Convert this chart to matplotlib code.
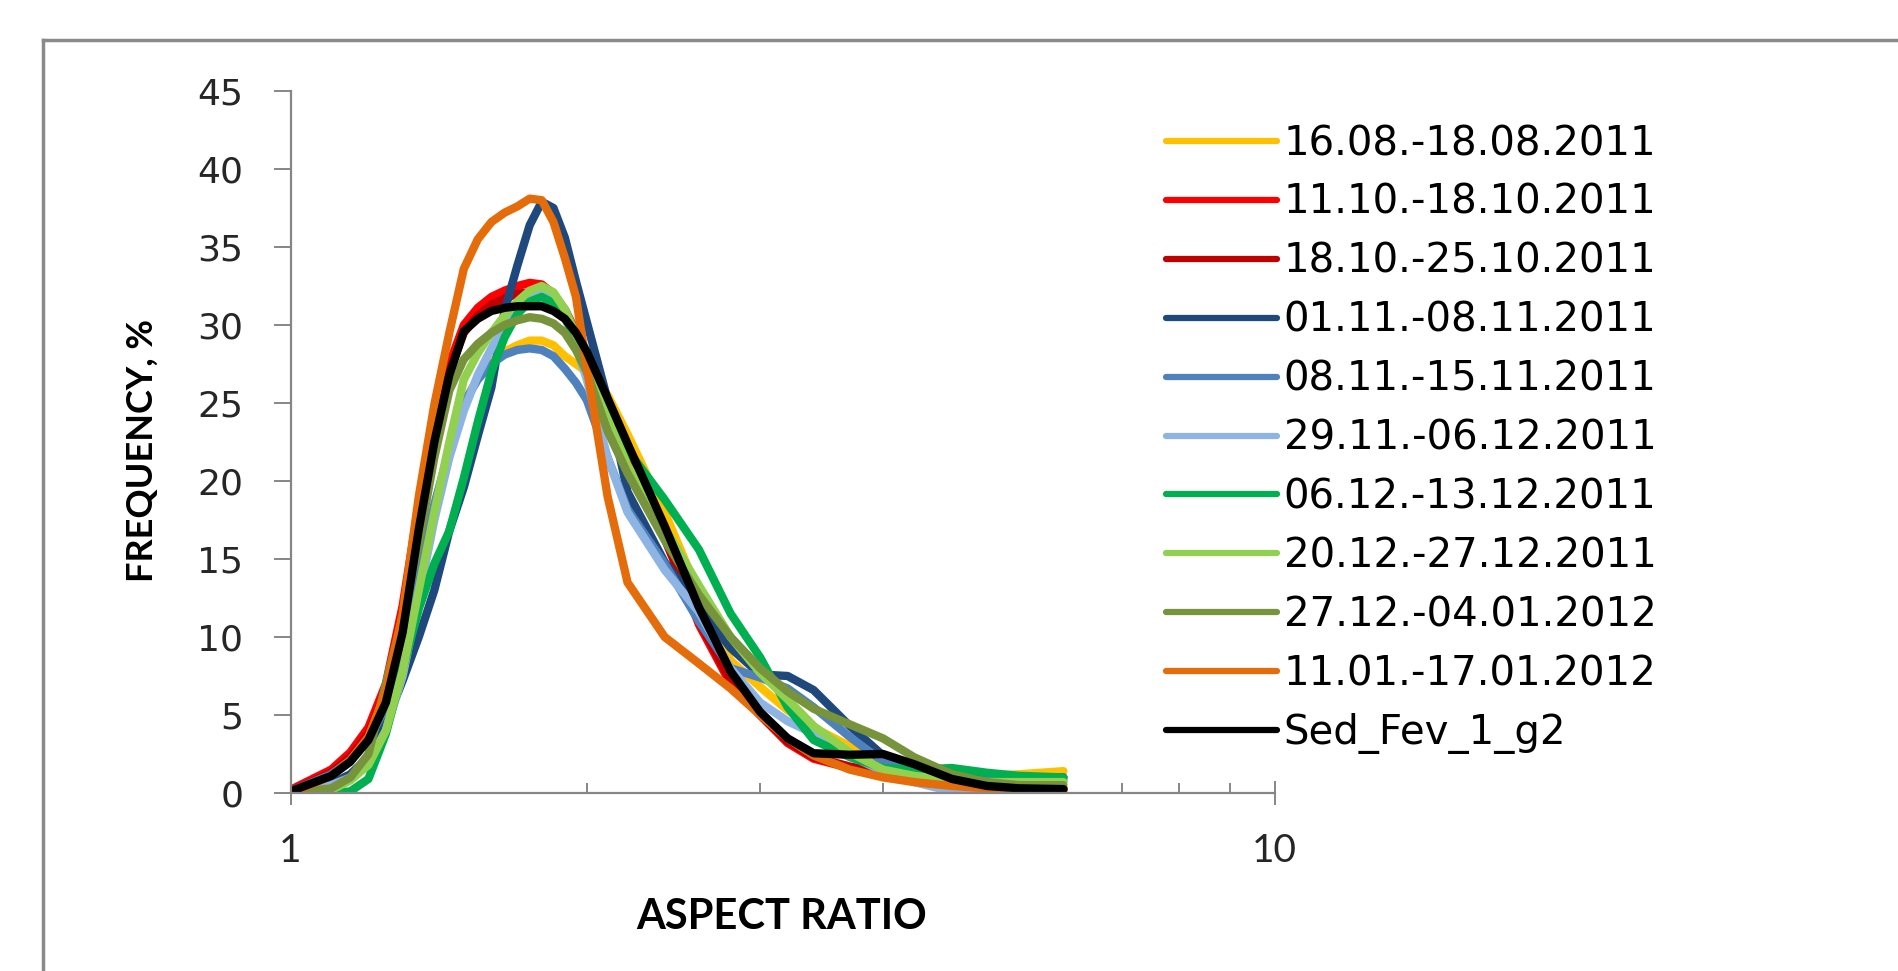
import numpy as np
import matplotlib
matplotlib.use("Agg")
import matplotlib.pyplot as plt
from matplotlib.lines import Line2D
from matplotlib.ticker import NullFormatter

# aspect ratio values (x) shared by all series
aspect = [1.0, 1.1, 1.15, 1.2, 1.25, 1.3, 1.35, 1.4, 1.45, 1.5, 1.55, 1.6, 1.65, 1.7, 1.75,
          1.8, 1.85, 1.9, 1.95, 2.0, 2.1, 2.2, 2.4, 2.6, 2.8, 3.0, 3.2, 3.4, 3.7, 4.0,
          4.3, 4.7, 5.1, 5.5, 6.1]

f_1608 = [0.0, 0.5, 1.0, 2.0, 4.0, 8.0, 13.5, 18.0, 22.0, 25.0, 26.6, 27.6, 28.3, 28.7, 29.0,
          29.0, 28.7, 28.0, 27.5, 27.0, 25.5, 23.0, 18.0, 12.8, 8.5, 6.8, 5.3, 4.2, 3.0, 2.0,
          1.5, 1.2, 1.1, 1.2, 1.4]
f_1110 = [0.2, 1.5, 2.6, 4.2, 7.0, 12.0, 18.5, 23.5, 27.5, 30.0, 31.1, 31.8, 32.2, 32.5, 32.7,
          32.6, 32.0, 31.0, 29.6, 28.0, 24.8, 21.8, 16.5, 10.8, 7.0, 5.0, 3.2, 2.2, 1.6, 1.2,
          0.8, 0.5, 0.3, 0.25, 0.2]
f_1810 = [0.1, 1.3, 2.3, 3.8, 6.5, 11.5, 18.0, 23.0, 27.0, 29.5, 30.6, 31.3, 31.7, 32.0, 32.1,
          32.0, 31.4, 30.5, 29.3, 27.8, 24.8, 21.8, 16.3, 11.0, 7.2, 5.0, 3.3, 2.3, 1.7, 1.3,
          0.9, 0.6, 0.4, 0.3, 0.3]
f_0111 = [0.1, 0.6, 1.2, 2.3, 4.5, 7.2, 10.0, 13.0, 16.8, 19.6, 22.9, 26.0, 30.9, 33.8, 36.4,
          37.9, 37.5, 35.6, 32.8, 30.2, 25.2, 19.3, 14.8, 11.9, 9.3, 7.6, 7.5, 6.6, 4.3, 2.4,
          1.5, 1.0, 1.0, 1.0, 1.0]
f_0811 = [0.1, 1.2, 2.1, 3.4, 5.5, 9.0, 14.0, 18.5, 22.0, 25.0, 26.5, 27.5, 28.1, 28.4, 28.5,
          28.4, 28.0, 27.2, 26.3, 25.2, 21.5, 18.2, 14.7, 11.0, 8.0, 7.4, 6.7, 5.5, 3.6, 2.0,
          1.3, 0.9, 0.8, 0.8, 0.8]
f_2911 = [0.0, 0.5, 1.0, 2.0, 4.0, 7.5, 12.5, 17.5, 21.5, 24.5, 26.8, 28.5, 30.0, 31.0, 31.7,
          32.0, 31.6, 30.5, 28.7, 26.5, 21.5, 18.0, 14.3, 11.6, 8.0, 5.8, 4.6, 3.8, 2.4, 1.4,
          0.7, 0.1, 0.0, 0.0, 0.0]
f_0612 = [0.0, 0.0, 0.1, 0.9, 3.8, 7.9, 11.8, 14.7, 16.8, 20.2, 23.8, 27.0, 29.2, 30.7, 31.5,
          31.8, 31.4, 30.5, 29.1, 27.5, 24.5, 22.0, 18.8, 15.6, 11.5, 8.7, 5.5, 3.4, 2.3, 1.6,
          1.5, 1.6, 1.3, 1.1, 1.0]
f_2012 = [0.0, 0.2, 0.8, 1.8, 4.0, 7.8, 13.0, 18.0, 22.5, 26.5, 28.2, 29.5, 30.6, 31.5, 32.2,
          32.5, 32.1, 31.0, 29.4, 27.5, 24.0, 21.0, 17.0, 13.3, 10.0, 7.7, 6.0, 4.3, 2.6, 1.5,
          1.1, 0.8, 0.7, 0.7, 0.7]
f_2712 = [0.0, 0.3, 1.0, 2.5, 7.0, 11.3, 16.0, 21.5, 25.8, 27.8, 28.8, 29.5, 30.0, 30.3, 30.5,
          30.4, 30.1, 29.5, 28.4, 27.0, 23.2, 20.5, 16.2, 12.7, 10.0, 8.0, 6.5, 5.4, 4.4, 3.5,
          2.3, 1.2, 0.7, 0.5, 0.5]
f_1101 = [0.0, 1.1, 2.1, 3.6, 6.5, 11.5, 19.0, 24.9, 29.5, 33.6, 35.5, 36.6, 37.2, 37.6, 38.1,
          38.0, 36.6, 34.3, 31.8, 27.3, 19.0, 13.5, 10.0, 8.3, 6.7, 5.0, 3.5, 2.4, 1.5, 1.0,
          0.7, 0.45, 0.3, 0.25, 0.2]
f_sed = [0.1, 1.1, 2.0, 3.4, 5.8, 10.3, 16.9, 22.5, 26.8, 29.6, 30.4, 30.9, 31.1, 31.2, 31.2,
         31.2, 30.9, 30.4, 29.5, 28.3, 25.3, 22.4, 17.1, 11.9, 7.8, 5.2, 3.5, 2.55, 2.45, 2.5,
         1.85, 0.9, 0.45, 0.3, 0.25]

labels = ["16.08.-18.08.2011", "11.10.-18.10.2011", "18.10.-25.10.2011",
          "01.11.-08.11.2011", "08.11.-15.11.2011", "29.11.-06.12.2011",
          "06.12.-13.12.2011", "20.12.-27.12.2011", "27.12.-04.01.2012",
          "11.01.-17.01.2012", "Sed_Fev_1_g2"]
series = [f_1608, f_1110, f_1810, f_0111, f_0811, f_2911,
          f_0612, f_2012, f_2712, f_1101, f_sed]
colors = ["#FFC000", "#FF0000", "#C00000", "#1F497D", "#4F81BD", "#8DB4E2",
          "#00B050", "#92D050", "#77933C", "#E46C0A", "#000000"]

W, H = 1898, 971
fig = plt.figure(figsize=(W / 100, H / 100), dpi=100)
ax = fig.add_axes([290.5 / W, 1 - 793 / H, 984.2 / W, 702 / H])

for y, c, lab in zip(series, colors, labels):
    ax.plot(aspect, y, color=c, lw=6, label=lab,
            solid_capstyle="round", solid_joinstyle="round")

ax.set_xscale("log")
ax.set_xlim(1, 10)
ax.set_ylim(0, 45)
ax.set_xticks([1, 10])
ax.set_xticklabels(["1", "10"])
ax.set_xticks([2, 3, 4, 5, 6, 7, 8, 9], minor=True)
ax.xaxis.set_minor_formatter(NullFormatter())
ax.set_yticks(np.arange(0, 46, 5))
ax.set_yticks([], minor=True)

gray = "#868686"
for s in ["top", "right"]:
    ax.spines[s].set_visible(False)
for s in ["left", "bottom"]:
    ax.spines[s].set_color(gray)
    ax.spines[s].set_linewidth(1.6)

ax.tick_params(axis="y", direction="out", length=12, width=1.4, color=gray,
               labelsize=26, pad=22, labelcolor="#262626")
for t in ax.get_yticklabels():
    t.set_family("DejaVu Sans")
ax.tick_params(axis="x", which="major", direction="inout", length=17, width=1.4,
               color=gray, labelsize=28, pad=20, labelcolor="#262626")
ax.tick_params(axis="x", which="minor", direction="in", length=7, width=1.4, color=gray)
for t in ax.get_xticklabels():
    t.set_family("Lato")

fig.text(782 / W, 1 - 917 / H, "ASPECT RATIO", ha="center", va="center",
         fontsize=30, fontweight="bold", family="Lato")
fig.text(142 / W, 1 - 451 / H, "FREQUENCY, %", ha="center", va="center",
         rotation=90, fontsize=26, fontweight="bold", family="Lato")

leg = ax.legend(loc="upper left", bbox_to_anchor=(1166 / W, 1 - 124 / H),
                bbox_transform=fig.transFigure, frameon=False,
                prop={"family": "DejaVu Sans", "size": 29},
                handlelength=2.75, handletextpad=0.17, labelspacing=0.47,
                borderpad=0, borderaxespad=0)
for ln in leg.get_lines():
    ln.set_linewidth(4.5)

# outer chart frame
fig.add_artist(Line2D([43 / W, 43 / W], [0, 1 - 40 / H], transform=fig.transFigure,
                      color="#8a8a8a", lw=2.5))
fig.add_artist(Line2D([43 / W, 1], [1 - 40 / H, 1 - 40 / H], transform=fig.transFigure,
                      color="#8a8a8a", lw=2.5))

plt.savefig("out.png", dpi=100)
